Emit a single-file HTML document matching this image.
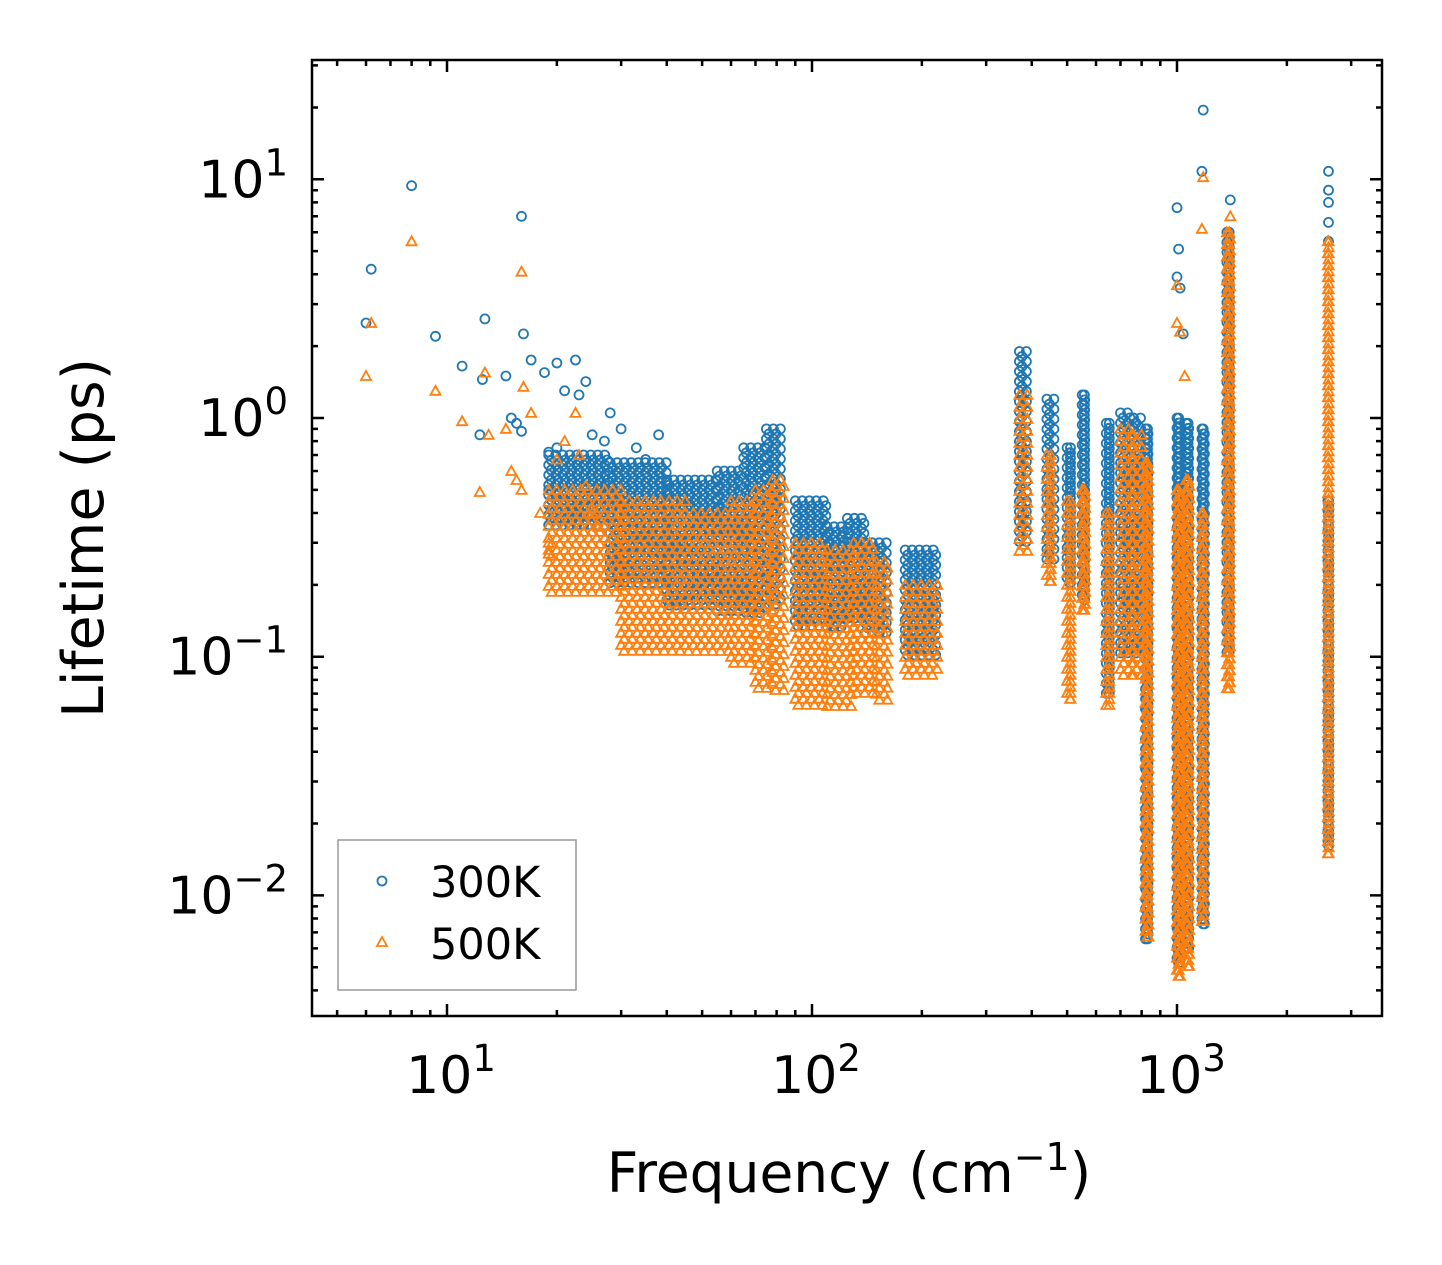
<!DOCTYPE html>
<html><head><meta charset="utf-8"><style>
body{margin:0;background:#fff}
svg{display:block;font-family:"DejaVu Sans","Liberation Sans",sans-serif}
</style></head><body>
<svg id="chart" width="1442" height="1265" viewBox="0 0 1442 1265" xmlns="http://www.w3.org/2000/svg">
<rect width="1442" height="1265" fill="#fff"/>
<g id="marks"></g>
<g id="axes"></g>
<text x="849" y="1192" font-size="55" text-anchor="middle">Frequency (cm<tspan dy="-22" font-size="38">−1</tspan><tspan dy="22">)</tspan></text>
<text transform="translate(103,538) rotate(-90)" font-size="57" text-anchor="middle">Lifetime (ps)</text>
<g>
<rect x="338" y="840" width="238" height="150" fill="#fff" stroke="#999" stroke-width="1.5"/>
<circle cx="382" cy="881" r="4.5" fill="none" stroke="#1f77b4" stroke-width="1.8"/>
<text x="430" y="897" font-size="43">300K</text>
<path d="M382,937 L387,946 L377,946 Z" fill="none" stroke="#ff7f0e" stroke-width="1.8"/>
<text x="430" y="959" font-size="43">500K</text>
</g>
</svg>
<script>
// ---- data ----
const blueSparseF=[6,6.2,8,9.3,11,12.3,12.5,12.7,14.5,15,15.5,16,16,16.2,17,18.5,19,19,20,20,21,22.5,23,24,25,27,28,30,31,33,35,38,1000,1010,1000,1020,1040,1180,1170,1400,2600,2600,2600,2600,2600];
const blueSparseL=[2.5,4.2,9.4,2.2,1.65,0.85,1.45,2.6,1.5,1.0,0.95,0.88,7.0,2.25,1.75,1.55,0.72,0.5,1.7,0.75,1.3,1.75,1.25,1.42,0.85,0.8,1.05,0.9,0.62,0.75,0.67,0.85,7.6,5.1,3.9,3.5,2.25,19.5,10.8,8.2,10.8,9,8,6.6,5.5];
const orangeSparseF=[6,6.2,8,9.3,11,12.3,12.7,13,14.5,15,15.5,16,16,16.2,17,18,19,19,20,21,22.5,23,24,25,26,1000,1000,1020,1050,1180,1170,1400];
const orangeSparseL=[1.5,2.5,5.5,1.3,0.97,0.49,1.55,0.85,0.9,0.6,0.55,0.5,4.1,1.35,1.05,0.4,0.3,0.27,0.67,0.8,1.05,0.7,0.52,0.4,0.35,2.5,3.6,2.3,1.5,10.2,6.2,7];
// bands: frequency start, end, lifetime low, high
const blueBandF0=[19,28,40,55,65,75,90,110,125,140,180,370,440,500,550,640,700,760,820,1000,1060,1170,1370,2590];
const blueBandF1=[28,40,55,65,75,82,110,125,140,160,222,392,462,522,565,665,760,800,840,1020,1085,1190,1410,2615];
const blueBandLo=[0.35,0.2,0.16,0.15,0.15,0.16,0.13,0.13,0.14,0.12,0.1,0.3,0.25,0.2,0.17,0.07,0.1,0.1,0.0065,0.005,0.006,0.0075,0.1,0.016];
const blueBandHi=[0.7,0.65,0.55,0.6,0.75,0.9,0.45,0.35,0.38,0.3,0.28,1.9,1.2,0.75,1.25,0.95,1.05,1.0,0.9,1.0,0.95,0.9,6,0.45];
const orBandF0=[19,30,45,60,70,78,90,110,130,150,180,370,440,500,550,640,700,760,820,1000,1060,1170,1370,2590];
const orBandF1=[30,45,60,70,78,85,110,130,150,165,222,392,462,522,565,665,760,800,840,1020,1085,1190,1410,2615];
const orBandLo=[0.18,0.1,0.1,0.09,0.07,0.07,0.06,0.06,0.07,0.065,0.08,0.27,0.2,0.065,0.15,0.06,0.08,0.08,0.0065,0.0045,0.005,0.0075,0.07,0.015];
const orBandHi=[0.5,0.45,0.4,0.45,0.5,0.55,0.3,0.28,0.3,0.25,0.2,1.25,0.7,0.45,0.5,0.4,0.9,0.85,0.65,0.5,0.55,0.4,6,5.5];
const xTicks=[10,100,1000];
const xTickLabels=["10","10","10"];
const xTickExp=["1","2","3"];
const yTicks=[10,1,0.1,0.01];
const yTickExp=["1","0","−1","−2"];
// ---- scales ----
const X0=312,X1=1382,Y0=60,Y1=1016;
const sx=f=>447+365*Math.log10(f/10);
const sy=v=>418-238.7*Math.log10(v);
const NS="http://www.w3.org/2000/svg";
const marks=document.getElementById('marks');
function circ(x,y){x=+x;y=+y;return `M${(x+4.5).toFixed(1)},${y.toFixed(1)}a4.5,4.5 0 1,0 -9,0a4.5,4.5 0 1,0 9,0`;}
function tri(x,y){x=+x;y=+y;return `M${x.toFixed(1)},${(y-5).toFixed(1)}l5,9h-10z`;}
function bandPath(f0,f1,lo,hi,shape,step){
  let d="";
  for(let i=0;i<f0.length;i++){
    const xa=sx(f0[i]),xb=sx(f1[i]),ya=sy(hi[i]),yb=sy(lo[i]);
    let r=0;
    for(let y=ya;y<=yb;y+=step){
      const off=(r%2)*step/2;
      for(let x=xa+off;x<=xb;x+=step+2){d+=shape(x,y);}
      if(xb-xa<step+2) d+=shape((xa+xb)/2,y);
      r++;
    }
  }
  return d;
}
function sparsePath(F,L,shape){let d="";for(let i=0;i<F.length;i++)d+=shape(sx(F[i]),sy(L[i]));return d;}
function addPath(d,col,name){
  const p=document.createElementNS(NS,'path');
  p.setAttribute('d',d);p.setAttribute('fill','none');p.setAttribute('stroke',col);p.setAttribute('stroke-width','1.8');
  
  
  marks.appendChild(p);
}
addPath(bandPath(blueBandF0,blueBandF1,blueBandLo,blueBandHi,circ,5)+sparsePath(blueSparseF,blueSparseL,circ),'#1f77b4','series-300k');
addPath(bandPath(orBandF0,orBandF1,orBandLo,orBandHi,tri,6)+sparsePath(orangeSparseF,orangeSparseL,tri),'#ff7f0e','series-500k');
// ---- axes ----
const ax=document.getElementById('axes');
let d=`M${X0},${Y0}H${X1}V${Y1}H${X0}Z`;
for(let e=0;e<=3;e++)for(let m=1;m<=9;m++){
  const f=m*Math.pow(10,e);const x=sx(f);if(x<X0||x>X1)continue;
  const L=m==1?12:6;d+=`M${x},${Y1}v${-L}M${x},${Y0}v${L}`;
}
for(let e=-3;e<=1;e++)for(let m=1;m<=9;m++){
  const v=m*Math.pow(10,e);const y=sy(v);if(y<Y0||y>Y1)continue;
  const L=m==1?12:6;d+=`M${X0},${y}h${L}M${X1},${y}h${-L}`;
}
const fr=document.createElementNS(NS,'path');
fr.setAttribute('d',d);fr.setAttribute('stroke','#000');fr.setAttribute('stroke-width','2.5');fr.setAttribute('fill','none');


ax.appendChild(fr);
xTicks.forEach((t,i)=>{
  const tx=document.createElementNS(NS,'text');
  tx.setAttribute('x',sx(t)+4);tx.setAttribute('y',1093);tx.setAttribute('font-size','52');tx.setAttribute('text-anchor','middle');
  tx.innerHTML=`${xTickLabels[i]}<tspan dy="-22" font-size="37">${xTickExp[i]}</tspan>`;
  
  
  ax.appendChild(tx);
});
yTicks.forEach((t,i)=>{
  const tx=document.createElementNS(NS,'text');
  tx.setAttribute('x',288);tx.setAttribute('y',sy(t)+18);tx.setAttribute('font-size','52');tx.setAttribute('text-anchor','end');
  tx.innerHTML=`10<tspan dy="-22" font-size="37">${yTickExp[i]}</tspan>`;
  
  
  ax.appendChild(tx);
});
</script>
</body></html>
